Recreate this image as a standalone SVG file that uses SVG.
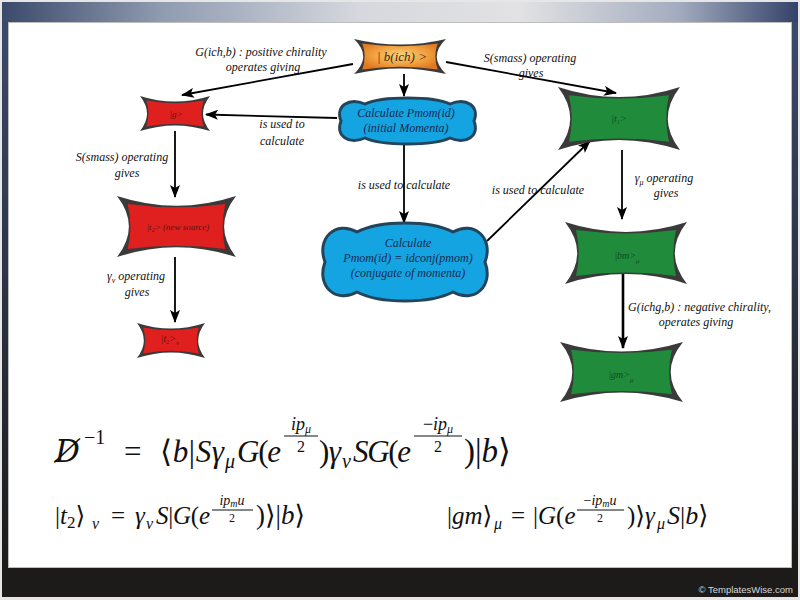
<svg xmlns="http://www.w3.org/2000/svg" width="800" height="600" viewBox="0 0 800 600">
<defs>
<linearGradient id="topband" x1="0" y1="0" x2="1" y2="0">
<stop offset="0" stop-color="#3b4a6b"/><stop offset="0.2" stop-color="#8f9bb0"/><stop offset="0.45" stop-color="#d6d8de"/><stop offset="0.65" stop-color="#e2e2e4"/><stop offset="0.85" stop-color="#a3acbf"/><stop offset="1" stop-color="#34426a"/>
</linearGradient>
<linearGradient id="side" x1="0" y1="0" x2="0" y2="1">
<stop offset="0" stop-color="#3b4a6b"/><stop offset="1" stop-color="#1c1b19"/>
</linearGradient>
<radialGradient id="orange" cx="0.5" cy="0.45" r="0.6">
<stop offset="0" stop-color="#f8d27a"/><stop offset="0.6" stop-color="#f0a040"/><stop offset="1" stop-color="#e07820"/>
</radialGradient>
<marker id="ah" markerWidth="13" markerHeight="10" refX="12" refY="5" orient="auto" markerUnits="userSpaceOnUse">
<path d="M0,0 L13,5 L0,10 L3,5 Z" fill="#000"/>
</marker>
<style>
.edge{fill:#3a3a3a}
.red{fill:#e0201f}
.green{fill:#1f8b3b}
.cloud{fill:#14a4e2;stroke:#22455c;stroke-width:3}
.conn{stroke:#000;stroke-width:1.8;fill:none;marker-end:url(#ah)}
.lbl{font-family:"Liberation Serif",serif;font-style:italic;font-size:12px;fill:#111;text-anchor:middle}
.ntx{font-family:"Liberation Serif",serif;font-style:italic;text-anchor:middle}
.ctx{font-family:"Liberation Serif",serif;font-style:italic;font-size:12px;fill:#1b2850;text-anchor:middle}
.m{font-family:"Liberation Serif","DejaVu Serif",serif;fill:#111}
.i{font-style:italic}
.bar{stroke:#111;stroke-width:1.1}
</style>
</defs>

<g id="background">
<rect width="800" height="600" fill="#e6e6e6"/>
<rect x="2" y="2" width="796" height="595" fill="#1c1b19"/>
<rect x="2" y="2" width="796" height="22" fill="url(#topband)"/>
<rect x="2" y="22" width="7" height="546" fill="url(#side)"/>
<rect x="791" y="22" width="7" height="546" fill="url(#side)"/>
<rect x="8.5" y="22.5" width="783" height="545" fill="#fff" stroke="#bdbdbd" stroke-width="1"/>
<text x="793" y="593" font-family="Liberation Sans, sans-serif" font-size="9.5" fill="#d8d8d8" text-anchor="end">© TemplatesWise.com</text>
</g>

<g id="connectors">
<line class="conn" x1="353" y1="64" x2="182" y2="95"/>
<line class="conn" x1="446" y1="62" x2="616" y2="93"/>
<line class="conn" x1="404" y1="74" x2="404" y2="96"/>
<line class="conn" x1="337" y1="118" x2="206" y2="114.5"/>
<line class="conn" x1="175" y1="131" x2="175" y2="197"/>
<line class="conn" x1="404" y1="144" x2="404" y2="223"/>
<line class="conn" x1="487" y1="241" x2="590" y2="141"/>
<line class="conn" x1="622" y1="150" x2="622" y2="219"/>
<line class="conn" x1="175" y1="257" x2="175" y2="322"/>
<line class="conn" x1="623" y1="272" x2="623" y2="348" style="stroke-width:2.6"/>
</g>

<g id="labels">
<text class="lbl" x="261" y="56">G(ich,b) : positive chirality</text>
<text class="lbl" x="263" y="71">operates giving</text>
<text class="lbl" x="530" y="62">S(smass) operating</text>
<text class="lbl" x="531" y="77">gives</text>
<text class="lbl" x="282" y="128">is used to</text>
<text class="lbl" x="282" y="145">calculate</text>
<text class="lbl" x="122" y="161">S(smass) operating</text>
<text class="lbl" x="127" y="177">gives</text>
<text class="lbl" x="404" y="189">is used to calculate</text>
<text class="lbl" x="538" y="194">is used to calculate</text>
<text class="lbl" x="664" y="182">γ<tspan font-size="8" dy="3">μ</tspan><tspan dy="-3"> operating</tspan></text>
<text class="lbl" x="666" y="197">gives</text>
<text class="lbl" x="136" y="280">γ<tspan font-size="8" dy="3">ν</tspan><tspan dy="-3"> operating</tspan></text>
<text class="lbl" x="137" y="296">gives</text>
<text class="lbl" x="628" y="311" style="text-anchor:start">G(ichg,b) : negative chirality,</text>
<text class="lbl" x="696" y="326">operates giving</text>
</g>

<g id="n_bich">
<path class="edge" d="M354,39 Q400,50.2 446,39 Q427.6,56.5 446,74 Q400,62.8 354,74 Q372.4,56.5 354,39Z"/>
<path fill="url(#orange)" d="M362.3,43.6 Q400,48.7 437.7,43.6 Q432.9,56.5 437.7,69.4 Q400,64.3 362.3,69.4 Q367.1,56.5 362.3,43.6Z"/>
<text class="ntx" x="402" y="61" font-size="13" fill="#3d2a10">| b(ich) &gt;</text>
</g>

<g id="n_g">
<path class="edge" d="M140,96 Q175,107.2 210,96 Q196,113.5 210,131 Q175,119.8 140,131 Q154,113.5 140,96Z"/>
<path class="red" d="M146.3,100.6 Q175,105.7 203.7,100.6 Q199.3,113.5 203.7,126.4 Q175,121.3 146.3,126.4 Q150.7,113.5 146.3,100.6Z"/>
<text class="ntx" x="176" y="117" font-size="9" fill="#5c1010">|g&gt;</text>
</g>

<g id="n_pmom">
<path class="cloud" d="M341,121 C335,106 349,97 365,104 C382,96 433,96 450,104 C466,97 480,106 474,121 C480,136 466,145 450,138 C433,146 382,146 365,138 C349,145 335,136 341,121Z"/>
<text class="ctx" x="406" y="117">Calculate Pmom(id)</text>
<text class="ctx" x="406" y="132">(initial Momenta)</text>
</g>

<g id="n_t1">
<path class="edge" d="M558,87 Q619,107.2 680,87 Q655.6,118.5 680,150 Q619,129.8 558,150 Q582.4,118.5 558,87Z"/>
<path class="green" d="M569,95.2 Q619,102 669,95.2 Q663.6,118.5 669,141.8 Q619,135 569,141.8 Q574.4,118.5 569,95.2Z"/>
<text class="ntx" x="619" y="122" font-size="10" fill="#0f4d22">|t<tspan font-size="6" dy="2">1</tspan><tspan dy="-2">&gt;</tspan></text>
</g>

<g id="n_t2src">
<path class="edge" d="M117,196 Q176.5,215.5 236,196 Q212.2,226.5 236,257 Q176.5,237.5 117,257 Q140.8,226.5 117,196Z"/>
<path class="red" d="M127.7,203.9 Q176.5,210.6 225.3,203.9 Q219.9,226.5 225.3,249.1 Q176.5,242.4 127.7,249.1 Q133.1,226.5 127.7,203.9Z"/>
<text class="ntx" x="178" y="230" font-size="9" fill="#5c1010">|t<tspan font-size="6" dy="2">2</tspan><tspan dy="-2">&gt; (new source)</tspan></text>
</g>

<g id="n_pmomconj">
<path class="cloud" d="M325,262 C316,238 336,220 357,232 C380,220 430,220 453,232 C474,220 494,238 485,262 C494,286 474,304 453,292 C430,304 380,304 357,292 C336,304 316,286 325,262Z"/>
<text class="ctx" x="408" y="247">Calculate</text>
<text class="ctx" x="408" y="262">Pmom(id) = idconj(pmom)</text>
<text class="ctx" x="408" y="277">(conjugate of momenta)</text>
</g>

<g id="n_t2nu">
<path class="edge" d="M137,323 Q171,334.2 205,323 Q191.4,340.5 205,358 Q171,346.8 137,358 Q150.6,340.5 137,323Z"/>
<path class="red" d="M143.1,327.6 Q171,332.7 198.9,327.6 Q194.5,340.5 198.9,353.4 Q171,348.3 143.1,353.4 Q147.5,340.5 143.1,327.6Z"/>
<text class="ntx" x="170" y="342" font-size="10" fill="#5c1010">|t<tspan font-size="6" dy="2">2</tspan><tspan dy="-2">&gt;</tspan><tspan font-size="7" dy="3">ν</tspan></text>
</g>

<g id="n_bm">
<path class="edge" d="M565,222 Q626,241.8 687,222 Q662.6,253 687,284 Q626,264.2 565,284 Q589.4,253 565,222Z"/>
<path class="green" d="M576,230.1 Q626,236.8 676,230.1 Q670.6,253 676,275.9 Q626,269.2 576,275.9 Q581.4,253 576,230.1Z"/>
<text class="ntx" x="627" y="259" font-size="10" fill="#0f4d22">|bm&gt;<tspan font-size="7" dy="4">μ</tspan></text>
</g>

<g id="n_gm">
<path class="edge" d="M560,342 Q621.5,361.2 683,342 Q658.4,372 683,402 Q621.5,382.8 560,402 Q584.6,372 560,342Z"/>
<path class="green" d="M571.1,349.8 Q621.5,356.4 671.9,349.8 Q666.4,372 671.9,394.2 Q621.5,387.6 571.1,394.2 Q576.6,372 571.1,349.8Z"/>
<text class="ntx" x="621" y="378" font-size="10" fill="#0f4d22">|gm&gt;<tspan font-size="7" dy="4">μ</tspan></text>
</g>

<g id="equations">
<text class="m i" x="55" y="462" font-size="31" style="font-family:'DejaVu Serif',serif">D̸</text>
<text class="m" x="84" y="444" font-size="20">−1</text>
<text class="m" x="124" y="462" font-size="31">=</text>
<text class="m" x="160" y="462" font-size="31" textLength="64" lengthAdjust="spacing">⟨<tspan class="i">b</tspan>|<tspan class="i">Sγ</tspan></text>
<text class="m i" x="225" y="468" font-size="20">μ</text>
<text class="m" x="237" y="462" font-size="31" textLength="44" lengthAdjust="spacing"><tspan class="i">G</tspan>(<tspan class="i">e</tspan></text>
<text class="m i" x="301" y="430" font-size="18" text-anchor="middle">ip<tspan font-size="12" dy="3">μ</tspan></text>
<line class="bar" x1="284" y1="436" x2="318" y2="436"/>
<text class="m" x="301" y="452" font-size="16" text-anchor="middle">2</text>
<text class="m" x="319" y="462" font-size="31" textLength="22" lengthAdjust="spacing">)<tspan class="i">γ</tspan></text>
<text class="m i" x="342" y="468" font-size="20">ν</text>
<text class="m" x="353" y="462" font-size="31" textLength="58" lengthAdjust="spacing"><tspan class="i">SG</tspan>(<tspan class="i">e</tspan></text>
<text class="m i" x="438" y="430" font-size="18" text-anchor="middle"><tspan font-style="normal">−</tspan>ip<tspan font-size="12" dy="3">μ</tspan></text>
<line class="bar" x1="414" y1="436" x2="462" y2="436"/>
<text class="m" x="438" y="452" font-size="16" text-anchor="middle">2</text>
<text class="m" x="464" y="462" font-size="33">)|<tspan class="i">b</tspan>⟩</text>

<text class="m" x="55" y="524" font-size="25">|<tspan class="i">t</tspan><tspan font-size="17" dy="4">2</tspan><tspan dy="-4">⟩</tspan></text>
<text class="m i" x="92" y="529" font-size="16">ν</text>
<text class="m" x="111" y="524" font-size="25">=</text>
<text class="m i" x="135" y="524" font-size="25">γ</text>
<text class="m i" x="146" y="529" font-size="16">ν</text>
<text class="m" x="156" y="524" font-size="25" textLength="54" lengthAdjust="spacing"><tspan class="i">S</tspan>|<tspan class="i">G</tspan>(<tspan class="i">e</tspan></text>
<text class="m i" x="232" y="505" font-size="14" text-anchor="middle">ip<tspan font-size="10" dy="2">m</tspan><tspan dy="-2">u</tspan></text>
<line class="bar" x1="212" y1="510" x2="253" y2="510"/>
<text class="m" x="232" y="522" font-size="12" text-anchor="middle">2</text>
<text class="m" x="256" y="524" font-size="27">)⟩|<tspan class="i">b</tspan>⟩</text>

<text class="m" x="447" y="524" font-size="25">|<tspan class="i">gm</tspan>⟩</text>
<text class="m i" x="494" y="529" font-size="16">μ</text>
<text class="m" x="511" y="524" font-size="25">=</text>
<text class="m" x="533" y="524" font-size="25">|<tspan class="i">G</tspan>(<tspan class="i">e</tspan></text>
<text class="m i" x="600" y="505" font-size="14" text-anchor="middle"><tspan font-style="normal">−</tspan>ip<tspan font-size="10" dy="2">m</tspan><tspan dy="-2">u</tspan></text>
<line class="bar" x1="577" y1="510" x2="624" y2="510"/>
<text class="m" x="600" y="522" font-size="12" text-anchor="middle">2</text>
<text class="m" x="627" y="524" font-size="25">)⟩<tspan class="i">γ</tspan></text>
<text class="m i" x="657" y="529" font-size="16">μ</text>
<text class="m" x="667" y="524" font-size="26"><tspan class="i">S</tspan>|<tspan class="i">b</tspan>⟩</text>
</g>
</svg>
